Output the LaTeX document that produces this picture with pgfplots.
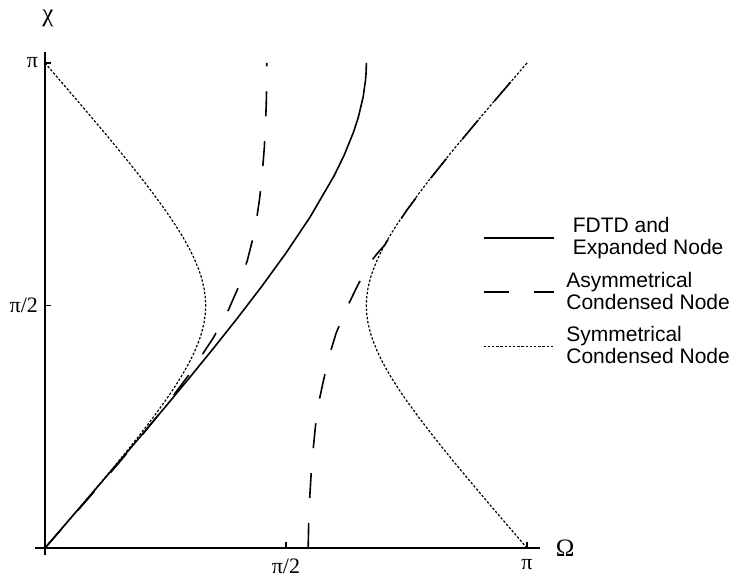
\documentclass[border=0pt]{standalone}
\usepackage{fontspec}
\setmainfont{Liberation Serif}
\newfontfamily\legendfont{Liberation Sans}
\usepackage{pgfplots}
\pgfplotsset{compat=1.18}
\usetikzlibrary{calc}

\begin{document}
\begin{tikzpicture}
\begin{axis}[
  x=241pt, y=242.5pt,
  xmin=-0.0207, xmax=1.027, ymin=-0.0144, ymax=1.0227,
  axis lines=middle,
  axis line style={-, line width=1pt},
  clip=false,
  no markers,
  xtick={0.5,1}, xticklabels={π/2,π},
  ytick={0.5,1}, yticklabels={π/2,π},
  tick align=inside, major tick length=3pt,
  tick style={black, line width=0.6pt},
  ticklabel style={font=\fontsize{11}{12}\selectfont},
  xticklabel style={yshift=-2pt},
  legend style={draw=none, fill=none, at={(axis cs:0.895,0.6985)}, anchor=north west,
    font=\legendfont\fontsize{10.5}{11}\selectfont, cells={align=left}, row sep=3pt, column sep=4pt},
  legend image code/.code={\draw[#1] (0pt,0pt) -- (35pt,0pt);},
]
\coordinate (O) at (axis cs:0,0);

% FDTD and Expanded Node
\addplot[black, line width=0.8pt] coordinates {
(0,0) (0.05,0.05776) (0.1,0.11563) (0.15,0.17376) (0.2,0.23228) (0.25,0.29138)
(0.3,0.35129) (0.35,0.41232) (0.4,0.47492) (0.45,0.53981) (0.5,0.60817)
(0.55,0.68230) (0.6,0.76772) (0.62,0.80836) (0.64,0.85719) (0.65,0.88793)
(0.66,0.92964) (0.665,0.96498) (0.666,0.97786) (0.6662,0.98150) (0.6666,0.99303) (0.66667,1)
};
\addlegendentry{FDTD and\\Expanded Node}

% Asymmetrical condensed node (left branch)
\addplot[black, line width=0.8pt, dash pattern=on 12.5pt off 12.5pt] coordinates {
(0,0) (0.05,0.05675) (0.1,0.11385) (0.15,0.17173) (0.2,0.23101) (0.25,0.29274)
(0.3,0.35897) (0.35,0.43455) (0.38,0.48961) (0.4,0.53481) (0.42,0.59373)
(0.43,0.63293) (0.44,0.68470) (0.445,0.71876) (0.45,0.76254) (0.455,0.82512)
(0.458,0.88503) (0.459,0.91599) (0.4595,0.93752) (0.46,0.97369) (0.46011,1)
};
\addlegendentry{Asymmetrical\\Condensed Node}

% Symmetrical condensed node (left branch)
\addplot[black, line width=0.6pt, dash pattern=on 1.2pt off 0.9pt] coordinates {
(0,1) (0.025,0.97112) (0.05,0.94218) (0.075,0.91312) (0.1,0.88386) (0.125,0.85431)
(0.15,0.82436) (0.175,0.79384) (0.2,0.76254) (0.225,0.73009) (0.25,0.69591)
(0.26,0.68153) (0.27,0.66658) (0.28,0.65090) (0.29,0.63423) (0.3,0.61614)
(0.31,0.59582) (0.32,0.57140) (0.325,0.55603) (0.33,0.53518) (0.3325,0.51751)
(0.3331,0.50925) (0.33333,0.5)
(0.3331,0.49075) (0.3325,0.48249) (0.33,0.46482) (0.325,0.44397) (0.32,0.42860)
(0.31,0.40418) (0.3,0.38386) (0.29,0.36577) (0.28,0.34910) (0.27,0.33342)
(0.26,0.31847) (0.25,0.30409) (0.225,0.26991) (0.2,0.23746) (0.175,0.20616)
(0.15,0.17564) (0.125,0.14569) (0.1,0.11614) (0.075,0.08688) (0.05,0.05782)
(0.025,0.02888) (0,0)
};
\addlegendentry{Symmetrical\\Condensed Node}

% Asymmetrical condensed node (right branch)
\addplot[black, line width=0.8pt, dash pattern=on 12.5pt off 12.5pt, forget plot] coordinates {
(0.546,0) (0.547,0.05) (0.549,0.10) (0.552,0.15) (0.556,0.20) (0.561,0.25)
(0.568,0.30) (0.577,0.342) (0.589,0.394) (0.604,0.443) (0.626,0.495)
(0.649,0.542) (0.674,0.588) (0.69,0.608) (0.705,0.625) (0.72,0.650)
(0.75,0.6955) (0.8,0.7622) (0.85,0.8240) (0.9,0.8836) (0.95,0.9420) (1,1)
};

% Symmetrical condensed node (right branch)
\addplot[black, line width=0.6pt, dash pattern=on 1.2pt off 0.9pt, forget plot] coordinates {
(1,0) (0.975,0.02888) (0.95,0.05782) (0.925,0.08688) (0.9,0.11614) (0.875,0.14569)
(0.85,0.17564) (0.825,0.20616) (0.8,0.23746) (0.775,0.26991) (0.75,0.30409)
(0.74,0.31847) (0.73,0.33342) (0.72,0.34910) (0.71,0.36577) (0.7,0.38386)
(0.69,0.40418) (0.68,0.42860) (0.675,0.44397) (0.67,0.46482) (0.6675,0.48249)
(0.6669,0.49075) (0.66667,0.5) (0.6669,0.50925) (0.6675,0.51751) (0.67,0.53518)
(0.675,0.55603) (0.68,0.57140) (0.69,0.59582) (0.7,0.61614) (0.71,0.63423)
(0.72,0.65090) (0.73,0.66658) (0.74,0.68153) (0.75,0.69591) (0.775,0.73009)
(0.8,0.76254) (0.825,0.79384) (0.85,0.82436) (0.875,0.85431) (0.9,0.88386)
(0.925,0.91312) (0.95,0.94218) (0.975,0.97112) (1,1)
};

\node[font=\fontsize{12.5}{14}\selectfont] at (axis cs:1.079,0) {Ω};
\node[font=\fontsize{12.5}{14}\selectfont] at (axis cs:0.006,1.0928) {χ};
\end{axis}
\pgfresetboundingbox
\path[use as bounding box] ($(O)+(-22.5pt,-14pt)$) rectangle ($(O)+(345.5pt,274pt)$);
\end{tikzpicture}
\end{document}
